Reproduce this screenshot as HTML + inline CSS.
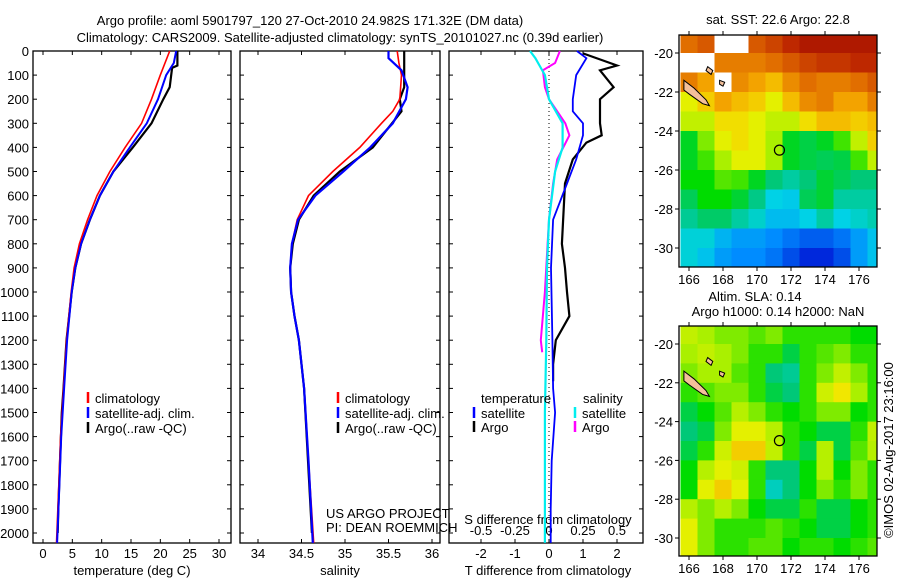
<!DOCTYPE html>
<html><head><meta charset="utf-8"><style>
body{margin:0;background:#fff;}
svg text{font-family:"Liberation Sans",sans-serif;font-size:13px;fill:#000;}
</style></head><body>
<svg id="fig" width="900" height="580" viewBox="0 0 900 580" xmlns="http://www.w3.org/2000/svg">
<text x="310" y="25" text-anchor="middle">Argo profile: aoml 5901797_120 27-Oct-2010 24.982S 171.32E (DM data)</text>
<text x="340" y="42" text-anchor="middle">Climatology: CARS2009. Satellite-adjusted climatology: synTS_20101027.nc (0.39d earlier)</text>
<text x="778" y="24" text-anchor="middle">sat. SST: 22.6 Argo: 22.8</text>
<text x="755" y="301" text-anchor="middle">Altim. SLA: 0.14</text>
<text x="778" y="316" text-anchor="middle">Argo h1000: 0.14 h2000: NaN</text>
<text transform="translate(893,450) rotate(-90)" text-anchor="middle">©IMOS 02-Aug-2017 23:16:00</text>
<g id="g"></g>
</svg>
<script>
// ---- profile data (depth in m) ----
const tClimDepth=[0,100,200,300,400,500,600,700,800,900,1000,1200,1400,1600,1800,2041];
const tClim=[21.6,20,18.5,16.8,14,11.4,9.2,7.6,6.2,5.3,4.8,4,3.5,3.0,2.7,2.3];
const tSatDepth=[0,50,100,200,300,400,500,600,700,800,900,1000,1200,1400,1600,1800,2041];
const tSat=[22.7,22.3,21,19.6,17.7,14.8,12,9.7,8,6.5,5.5,4.9,4.1,3.6,3.1,2.8,2.4];
const tArgoDepth=[0,60,70,150,200,300,400,500,600,700,800,900,1000,1200,1400,1500,1900,2000];
const tArgo=[22.9,22.9,22,21.6,20.5,18.5,15.3,12,9.7,8,6.5,5.5,4.9,4,3.5,3.2,2.6,2.5];
const sClimDepth=[0,50,100,200,250,300,400,500,600,700,800,900,1000,1100,1200,1400,1700,2041];
const sClim=[35.6,35.62,35.65,35.63,35.55,35.42,35.17,34.86,34.58,34.45,34.39,34.37,34.38,34.42,34.47,34.53,34.58,34.64];
const sSatDepth=[0,30,40,80,150,200,300,400,500,600,700,800,900,1000,1100,1200,1400,1700,2041];
const sSat=[35.5,35.5,35.53,35.65,35.72,35.7,35.55,35.29,34.98,34.66,34.46,34.39,34.37,34.38,34.42,34.47,34.53,34.58,34.63];
const sArgoDepth=[0,60,150,200,250,300,400,500,600,700,800,900,1000,1100,1200,1300,1400,2000];
const sArgo=[35.68,35.68,35.68,35.63,35.65,35.54,35.32,34.94,34.64,34.47,34.4,34.37,34.38,34.42,34.47,34.5,34.53,34.62];
const dTArgoDepth=[10,40,60,80,150,200,300,350,380,450,550,800,900,1000,1100,1200,1300,1370];
const dTArgo=[1.0,1.6,2.0,1.5,1.9,1.5,1.5,1.55,1.1,0.7,0.47,0.38,0.47,0.53,0.6,0.2,0.12,0.12];
const dTSatDepth=[0,30,100,200,250,300,350,450,550,700,900,1200,1400,1500,1700,1900,2041];
const dTSat=[0.82,1.1,0.8,0.7,0.7,1.0,1.0,0.8,0.53,0.12,0.06,0.1,0.12,0.18,0.08,0.05,0.05];
const dSArgoDepth=[0,50,80,150,200,300,350,450,550,700,800,1000,1200,1250];
const dSArgo=[0.08,0.045,-0.045,-0.03,0.0,0.12,0.15,0.06,0.03,0.0,-0.01,-0.03,-0.06,-0.05];
const dSSatDepth=[0,30,60,100,200,300,400,500,700,900,1200,1500,1800,2041];
const dSSat=[-0.14,-0.1,-0.07,-0.03,0.0,0.1,0.1,0.045,0.0,-0.015,-0.02,-0.03,-0.03,-0.03];
const depthTicks=[0,100,200,300,400,500,600,700,800,900,1000,1100,1200,1300,1400,1500,1600,1700,1800,1900,2000];
const tTicks=[0,5,10,15,20,25,30];
const sTicks=[34,34.5,35,35.5,36];
const sTickLabels=["34","34.5","35","35.5","36"];
const dTTicks=[-2,-1,0,1,2];
const dSTicks=[-0.5,-0.25,0,0.25,0.5];
// ---- map data (rows lat -19.5..-30.5, cols lon 166..177), normalized colour value, -1 = missing ----
const sstGrid=[
[0.82,0.85,-1,-1,0.85,0.88,0.92,0.95,0.95,0.95,0.95,0.95],
[-1,-1,0.8,0.8,0.8,0.82,0.85,0.88,0.9,0.9,0.92,0.92],
[0.8,0.75,-1,0.78,0.75,0.72,0.78,0.82,0.8,0.8,0.82,0.85],
[0.65,0.7,0.75,0.72,0.7,0.65,0.72,0.78,0.8,0.75,0.75,0.8],
[0.62,0.62,0.68,0.68,0.65,0.62,0.62,0.68,0.72,0.72,0.7,0.72],
[0.5,0.58,0.65,0.68,0.65,0.6,0.5,0.48,0.5,0.55,0.62,0.7],
[0.5,0.55,0.6,0.65,0.65,0.6,0.5,0.48,0.47,0.48,0.55,0.62],
[0.52,0.52,0.56,0.55,0.5,0.45,0.42,0.45,0.49,0.47,0.45,0.45],
[0.47,0.52,0.52,0.49,0.44,0.37,0.36,0.47,0.49,0.42,0.42,0.42],
[0.43,0.46,0.46,0.42,0.39,0.34,0.34,0.37,0.42,0.37,0.39,0.41],
[0.38,0.38,0.33,0.3,0.3,0.28,0.25,0.22,0.22,0.25,0.3,0.35],
[0.38,0.35,0.3,0.28,0.28,0.25,0.2,0.15,0.15,0.2,0.3,0.35]];
const slaGrid=[
[0.62,0.6,0.58,0.58,0.56,0.58,0.54,0.54,0.54,0.54,0.52,0.52],
[0.6,0.62,0.6,0.58,0.54,0.54,0.48,0.54,0.56,0.58,0.54,0.54],
[0.58,0.6,0.6,0.56,0.54,0.45,0.43,0.54,0.58,0.62,0.58,0.54],
[0.54,0.56,0.58,0.58,0.54,0.48,0.45,0.54,0.63,0.67,0.6,0.54],
[0.48,0.52,0.56,0.61,0.58,0.54,0.52,0.54,0.58,0.58,0.52,0.54],
[0.45,0.48,0.58,0.65,0.65,0.61,0.54,0.52,0.48,0.48,0.54,0.62],
[0.48,0.54,0.63,0.7,0.7,0.62,0.54,0.48,0.61,0.48,0.56,0.61],
[0.52,0.61,0.65,0.63,0.54,0.45,0.45,0.52,0.61,0.52,0.58,0.54],
[0.52,0.65,0.7,0.65,0.54,0.4,0.45,0.52,0.58,0.54,0.58,0.54],
[0.61,0.58,0.61,0.58,0.52,0.48,0.48,0.54,0.48,0.48,0.52,0.54],
[0.65,0.58,0.54,0.54,0.54,0.56,0.54,0.52,0.48,0.48,0.52,0.54],
[0.65,0.58,0.54,0.54,0.56,0.56,0.52,0.54,0.54,0.52,0.54,0.56]];
const lonTicks=[166,168,170,172,174,176];
const latTicks=[-20,-22,-24,-26,-28,-30];
const floatLon=171.32, floatLat=-24.98;

const NS="http://www.w3.org/2000/svg";
const G=document.getElementById('g');
function mk(tag,attrs,parent){const e=document.createElementNS(NS,tag);for(const k in attrs)e.setAttribute(k,attrs[k]);(parent||G).appendChild(e);return e;}
function txt(x,y,s,anchor,parent){const t=mk('text',{x:x,y:y,'text-anchor':anchor||'middle'},parent);t.textContent=s;return t;}

const Y0=51, PY=0.241, BOT=543;
const yOf=d=>Y0+d*PY;
const panels=[
 {name:'temperature',x0:33,x1:231,f:v=>43+v*5.867},
 {name:'salinity',x0:240,x1:440,f:v=>258+(v-34)*87},
 {name:'difference',x0:449,x1:643,f:v=>549+v*34}
];
const fS=v=>549+v*136;

panels.forEach((p,i)=>{
 const r=mk('rect',{x:p.x0,y:Y0,width:p.x1-p.x0,height:BOT-Y0,fill:'none',stroke:'#000','stroke-width':1.3});
 
 
 depthTicks.forEach(d=>{
  mk('line',{x1:p.x0,x2:p.x0+4,y1:yOf(d),y2:yOf(d),stroke:'#000'});
  mk('line',{x1:p.x1-4,x2:p.x1,y1:yOf(d),y2:yOf(d),stroke:'#000'});
 });
});
depthTicks.forEach(d=>{
 const t=txt(29,yOf(d)+5,String(d),'end');
 
 
});
function xticks(p,ticks,labels,ly){
 ticks.forEach((v,i)=>{
  const x=p.f(v);
  mk('line',{x1:x,x2:x,y1:Y0,y2:Y0+4,stroke:'#000'});
  mk('line',{x1:x,x2:x,y1:BOT-4,y2:BOT,stroke:'#000'});
  const t=txt(x,ly,labels?labels[i]:String(v));
  
  
 });
}
xticks(panels[0],tTicks,null,558);
xticks(panels[1],sTicks,sTickLabels,558);
xticks(panels[2],dTTicks,null,558);
dSTicks.forEach(v=>{
 const t=txt(fS(v),535,String(v));
 
 
});
[['temperature (deg C)',132],['salinity',340],['T difference from climatology',548]].forEach(a=>{
 const t=txt(a[1],575,a[0]);
 
 
});
{const t=txt(548,524,'S difference from climatology');
 
 }
{const t=txt(326,518,'US ARGO PROJECT','start');
 
 
 const t2=txt(326,532,'PI: DEAN ROEMMICH','start');
 
 }
mk('line',{x1:549,x2:549,y1:Y0,y2:BOT,stroke:'#000','stroke-dasharray':'1,3'});

function line(depths,vals,fx,color,w,name){
 const pts=depths.map((d,i)=>fx(vals[i]).toFixed(1)+','+Math.min(yOf(d),BOT).toFixed(1)).join(' ');
 const l=mk('polyline',{points:pts,fill:'none',stroke:color,'stroke-width':w});
 
 
}
line(tArgoDepth,tArgo,panels[0].f,'#000',2.2,'temp-argo-line');
line(tClimDepth,tClim,panels[0].f,'#f00',1.6,'temp-climatology-line');
line(tSatDepth,tSat,panels[0].f,'#00f',2,'temp-satellite-line');
line(sArgoDepth,sArgo,panels[1].f,'#000',2.2,'sal-argo-line');
line(sClimDepth,sClim,panels[1].f,'#f00',1.6,'sal-climatology-line');
line(sSatDepth,sSat,panels[1].f,'#00f',2.2,'sal-satellite-line');
line(dTArgoDepth,dTArgo,panels[2].f,'#000',2.2,'tdiff-argo-line');
line(dTSatDepth,dTSat,panels[2].f,'#00f',1.8,'tdiff-satellite-line');
line(dSArgoDepth,dSArgo,fS,'#f0f',2,'sdiff-argo-line');
line(dSSatDepth,dSSat,fS,'#0ee',2.2,'sdiff-satellite-line');

function legend(x,y,color,label,name){
 mk('line',{x1:x,x2:x,y1:y-11,y2:y,stroke:color,'stroke-width':2.5});
 const t=txt(x+7,y,label,'start');
 
 
}
[[88,'temp'],[338,'sal']].forEach(a=>{
 legend(a[0],403,'#f00','climatology',a[1]+'-legend-climatology');
 legend(a[0],418,'#00f','satellite-adj. clim.',a[1]+'-legend-satellite');
 legend(a[0],433,'#000','Argo(..raw -QC)',a[1]+'-legend-argo');
});
{const t=txt(481,403,'temperature','start');
 const t2=txt(583,403,'salinity','start');}
legend(474,418,'#00f','satellite','diff-legend-t-satellite');
legend(474,432,'#000','Argo','diff-legend-t-argo');
legend(575,418,'#0ee','satellite','diff-legend-s-satellite');
legend(575,432,'#f0f','Argo','diff-legend-s-argo');

function jet(v){
 const stops=[[0,[0,0,140]],[0.15,[0,40,220]],[0.28,[0,140,255]],[0.37,[0,210,230]],[0.45,[0,200,120]],[0.52,[0,220,0]],[0.6,[170,240,0]],[0.66,[240,240,0]],[0.74,[245,170,0]],[0.82,[225,110,0]],[0.92,[190,40,0]],[1,[150,0,0]]];
 for(let i=1;i<stops.length;i++){if(v<=stops[i][0]){const a=stops[i-1],b=stops[i],t=(v-a[0])/(b[0]-a[0]);return 'rgb('+a[1].map((c,k)=>Math.round(c+(b[1][k]-c)*t)).join(',')+')';}}
 return 'rgb(150,0,0)';
}
function drawMap(grid,top,bottom,name,latA,latB){
 const x0=679,x1=877;
 const lonX=lon=>689+(lon-166)*17;
 const latY=lat=>latA+(lat+20)*(latB-latA)/(-10);
 const g=mk('g',{});
 
 
 grid.forEach((row,r)=>row.forEach((v,c)=>{
  const lon=166+c, lat=-19.5-r;
  const xa=Math.max(x0,lonX(lon-0.5)), xb=Math.min(x1,lonX(lon+0.5));
  const ya=Math.max(top,latY(lat+0.5)), yb=Math.min(bottom,latY(lat-0.5));
  if(xb<=xa||yb<=ya)return;
  const cell=mk('rect',{x:xa,y:ya,width:xb-xa+0.5,height:yb-ya+0.5,fill:v<0?'#fff':jet(v)},g);
  
  
 }));
 mk('polygon',{points:[lonX(165.7),latY(-21.4),lonX(166.3),latY(-21.8),lonX(167.0),latY(-22.4),lonX(167.2),latY(-22.7),lonX(166.8),latY(-22.6),lonX(166.0),latY(-22.1),lonX(165.7),latY(-21.9)].join(' '),fill:'#f4c09a',stroke:'#000','stroke-width':1},g);
 mk('polygon',{points:[lonX(167.1),latY(-20.7),lonX(167.4),latY(-20.9),lonX(167.3),latY(-21.1),lonX(167.0),latY(-20.9)].join(' '),fill:'#f4c09a',stroke:'#000','stroke-width':1},g);
 mk('polygon',{points:[lonX(167.8),latY(-21.4),lonX(168.1),latY(-21.5),lonX(168.0),latY(-21.7),lonX(167.8),latY(-21.6)].join(' '),fill:'#f4c09a',stroke:'#000','stroke-width':1},g);
 const c=mk('circle',{cx:lonX(floatLon),cy:latY(floatLat),r:5,fill:'none',stroke:'#000','stroke-width':1.2},g);
 
 
 mk('rect',{x:x0,y:top,width:x1-x0,height:bottom-top,fill:'none',stroke:'#000','stroke-width':1.3},g);
 lonTicks.forEach(l=>{
  const x=lonX(l);
  mk('line',{x1:x,x2:x,y1:top-4,y2:top,stroke:'#000'},g);
  mk('line',{x1:x,x2:x,y1:bottom,y2:bottom+4,stroke:'#000'},g);
  const t=txt(x,bottom+17,String(l),'middle',g);
  
  
 });
 latTicks.forEach(l=>{
  const y=latY(l);
  mk('line',{x1:x0-4,x2:x0,y1:y,y2:y,stroke:'#000'},g);
  mk('line',{x1:x1,x2:x1+4,y1:y,y2:y,stroke:'#000'},g);
  const t=txt(x0-6,y+5,String(l),'end',g);
  
  
 });
}
drawMap(sstGrid,35,267,'sst-map',53,248);
drawMap(slaGrid,326,556,'sla-map',344,538);
</script>
</body></html>
